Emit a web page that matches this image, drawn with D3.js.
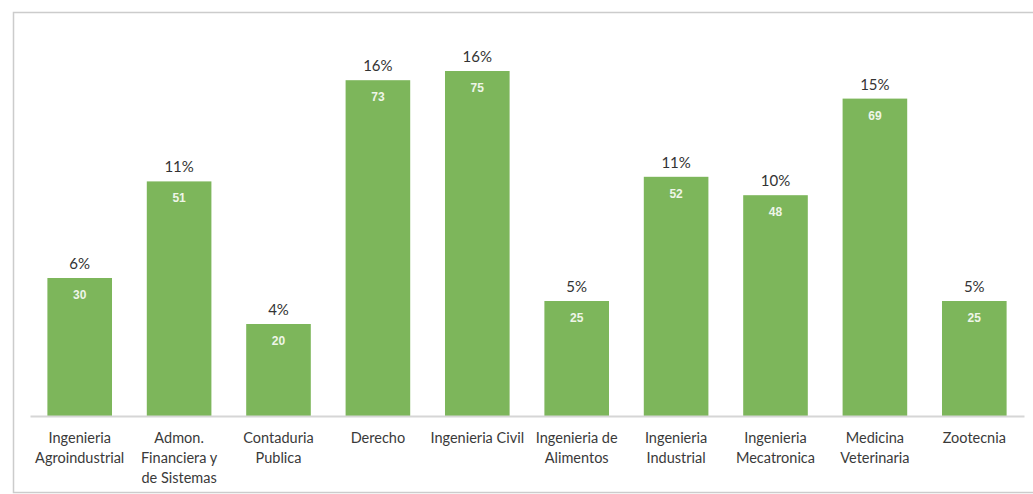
<!DOCTYPE html>
<html>
<head>
<meta charset="utf-8">
<script src="https://cdn.jsdelivr.net/npm/d3@7"></script>
<style>
  html, body { margin: 0; padding: 0; background: #fff; }
  svg { display: block; }
</style>
</head>
<body>
<svg id="chart" width="1033" height="494"></svg>
<script>
const categories = [
  ["Ingenieria", "Agroindustrial"],
  ["Admon.", "Financiera y", "de Sistemas"],
  ["Contaduria", "Publica"],
  ["Derecho"],
  ["Ingenieria Civil"],
  ["Ingenieria de", "Alimentos"],
  ["Ingenieria", "Industrial"],
  ["Ingenieria", "Mecatronica"],
  ["Medicina", "Veterinaria"],
  ["Zootecnia"]
];
const counts = [30, 51, 20, 73, 75, 25, 52, 48, 69, 25];
const percents = ["6%", "11%", "4%", "16%", "16%", "5%", "11%", "10%", "15%", "5%"];

const svg = d3.select("#chart");
const W = 1033, H = 494;

// frame
svg.append("rect")
  .attr("x", 13.5).attr("y", 12.5)
  .attr("width", W + 10).attr("height", 480)
  .attr("fill", "#fff").attr("stroke", "#cccccc").attr("stroke-width", 1.5);

const ids = categories.map((d, i) => i);
const x = d3.scaleBand().domain(ids).range([30, 1024]).paddingInner(0.35).paddingOuter(0.175);
const baseY = 416;
const y = d3.scaleLinear().domain([0, 80]).range([baseY, baseY - 4.6 * 80]);

const g = svg.append("g");

g.selectAll("rect.bar").data(counts).enter().append("rect")
  .attr("class", "bar")
  .attr("x", (d, i) => x(i))
  .attr("y", d => y(d))
  .attr("width", x.bandwidth())
  .attr("height", d => y(0) - y(d))
  .attr("fill", "#7db65b");

// axis line
const axis = d3.axisBottom(x).tickSize(0).tickFormat("");
const ax = svg.append("g").attr("transform", `translate(0,${baseY})`).call(axis);
ax.select(".domain").attr("stroke", "#d6d6d6").attr("stroke-width", 2);

// value labels inside bars
g.selectAll("text.val").data(counts).enter().append("text")
  .attr("class", "val")
  .attr("x", (d, i) => x(i) + x.bandwidth() / 2)
  .attr("y", d => y(d) + 21)
  .attr("text-anchor", "middle")
  .attr("font-family", "Liberation Sans, Arial, sans-serif")
  .attr("font-size", 12)
  .attr("font-weight", "bold")
  .attr("fill", "#eef5e8")
  .text(d => d);

// percent labels
g.selectAll("text.pct").data(percents).enter().append("text")
  .attr("class", "pct")
  .attr("x", (d, i) => x(i) + x.bandwidth() / 2)
  .attr("y", (d, i) => y(counts[i]) - 9)
  .attr("text-anchor", "middle")
  .attr("font-family", "Lato, sans-serif")
  .attr("font-size", 15)
  .attr("fill", "#333333")
  .text(d => d);

// category labels
const cat = g.selectAll("text.cat").data(categories).enter().append("text")
  .attr("class", "cat")
  .attr("x", (d, i) => x(i) + x.bandwidth() / 2)
  .attr("y", 443)
  .attr("text-anchor", "middle")
  .attr("font-family", "Lato, sans-serif")
  .attr("font-size", 14.5)
  .attr("fill", "#3a3a3a");
cat.each(function(d, i) {
  const t = d3.select(this);
  d.forEach((line, j) => {
    t.append("tspan")
      .attr("x", x(i) + x.bandwidth() / 2)
      .attr("dy", j === 0 ? 0 : 20)
      .text(line);
  });
});
</script>
</body>
</html>
